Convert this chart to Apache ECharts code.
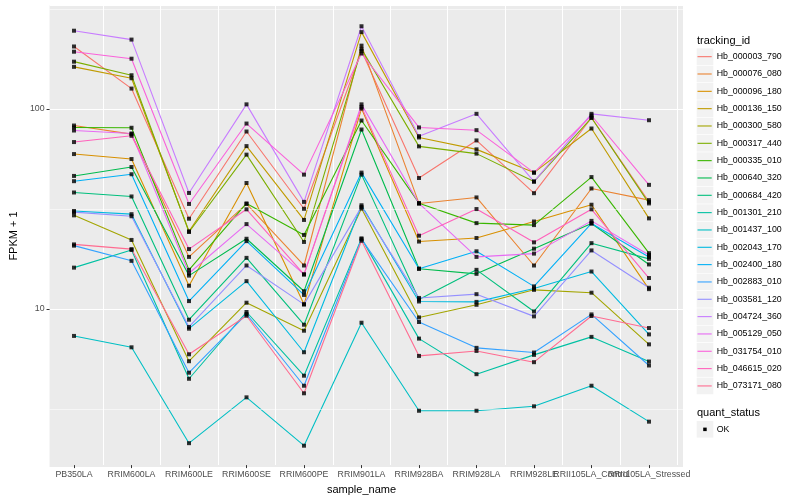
<!DOCTYPE html>
<html><head><meta charset="utf-8">
<script src="https://cdn.jsdelivr.net/npm/echarts@6/dist/echarts.min.js"></script>
<style>html,body{margin:0;padding:0;background:#fff}#c{width:800px;height:500px}</style>
</head><body><div id="c"></div>
<script>
const categories = ['PB350LA','RRIM600LA','RRIM600LE','RRIM600SE','RRIM600PE','RRIM901LA','RRIM928BA','RRIM928LA','RRIM928LE','RRII105LA_Control','RRII105LA_Stressed'];
const trackingIds = ['Hb_000003_790','Hb_000076_080','Hb_000096_180','Hb_000136_150','Hb_000300_580','Hb_000317_440','Hb_000335_010','Hb_000640_320','Hb_000684_420','Hb_001301_210','Hb_001437_100','Hb_002043_170','Hb_002400_180','Hb_002883_010','Hb_003581_120','Hb_004724_360','Hb_005129_050','Hb_031754_010','Hb_046615_020','Hb_073171_080'];
const colors = ['#F8766D','#EA8331','#D89000','#C09B00','#A3A500','#7CAE00','#39B600','#00BB4E','#00BF7D','#00C1A3','#00BFC4','#00BAE0','#00B0F6','#35A2FF','#9590FF','#C77CFF','#E76BF3','#FA62DB','#FF62BC','#FF6C91'];

const Hb_000003_790 = [205, 126, 28.0, 76.7, 31.4, 195, 44.8, 69.2, 37.6, 89.9, 34.0];
const Hb_000076_080 = [82.2, 74.4, 18.0, 33.2, 16.3, 207, 33.4, 35.8, 16.3, 39.7, 34.7];
const Hb_000096_180 = [59.1, 55.8, 12.9, 42.3, 10.4, 100, 21.5, 22.4, 27.1, 32.9, 12.4];
const Hb_000136_150 = [162, 142, 24.2, 64.8, 27.6, 242, 71.6, 62.4, 47.7, 79.4, 28.1];
const Hb_000300_580 = [29.1, 21.9, 5.39, 10.6, 7.67, 31.5, 8.94, 10.35, 12.3, 11.9, 6.55];
const Hb_000317_440 = [172, 147, 24.0, 58.7, 21.4, 199, 64.6, 59.4, 43.0, 89.9, 33.4];
const Hb_000335_010 = [80.4, 80.1, 15.5, 33.4, 23.2, 87.1, 33.5, 26.6, 26.0, 45.3, 18.8];
const Hb_000640_320 = [45.9, 50.9, 14.5, 22.2, 12.1, 78.5, 15.7, 14.8, 19.8, 26.5, 16.5];
const Hb_000684_420 = [37.9, 36.2, 8.71, 17.8, 8.22, 46.6, 11.0, 15.5, 9.58, 21.1, 17.6];
const Hb_001301_210 = [15.9, 19.5, 4.40, 9.52, 4.56, 22.3, 7.00, 4.64, 5.8, 7.14, 5.37];
const Hb_001437_100 = [7.22, 6.33, 2.09, 3.55, 2.03, 8.41, 3.04, 3.04, 3.20, 4.06, 2.68];
const Hb_002043_170 = [30.6, 29.5, 7.85, 13.6, 5.98, 32.7, 10.75, 10.7, 12.5, 15.2, 7.35];
const Hb_002400_180 = [43.2, 46.8, 10.8, 21.6, 11.6, 47.7, 15.7, 19.2, 12.8, 26.5, 18.0];
const Hb_002883_010 = [20.5, 17.2, 4.72, 9.30, 4.06, 22.1, 8.48, 6.29, 5.96, 9.26, 5.13];
const Hb_003581_120 = [30.2, 28.8, 8.01, 16.3, 10.4, 32.1, 11.2, 11.7, 9.05, 19.4, 12.6];
const Hb_004724_360 = [246, 222, 37.7, 105, 34.0, 259, 72.7, 94.1, 43.0, 94.1, 87.4];
const Hb_005129_050 = [77.6, 75, 14.9, 26.3, 14.7, 105, 33.4, 18.0, 18.7, 27.3, 18.4];
const Hb_031754_010 = [193, 178, 33.2, 84.1, 46.6, 189, 80.4, 77.9, 47.7, 92.3, 41.4];
const Hb_046615_020 = [67.9, 73, 19.7, 31.2, 14.7, 102, 23.0, 31.3, 21.3, 31.2, 14.1];
const Hb_073171_080 = [20.8, 19.7, 5.84, 9.12, 3.72, 21.7, 5.73, 6.07, 5.33, 9.09, 7.91];

const seriesValues = [Hb_000003_790, Hb_000076_080, Hb_000096_180, Hb_000136_150, Hb_000300_580, Hb_000317_440, Hb_000335_010, Hb_000640_320, Hb_000684_420, Hb_001301_210, Hb_001437_100, Hb_002043_170, Hb_002400_180, Hb_002883_010, Hb_003581_120, Hb_004724_360, Hb_005129_050, Hb_031754_010, Hb_046615_020, Hb_073171_080];
const quantStatus = ['OK'];
const yTickLabels = ['10', '100'];
const yMinorValues = [3.1623, 31.623, 316.23];
const yRange = [1.6218, 331.13];

const FONT = '"Liberation Sans", Arial, Helvetica, sans-serif';
const P = {left: 40, right: 683, top: 5, bottom: 467};
const step = (P.right - P.left) / (categories.length + 1.2);
const innerLeft = P.left + 0.1 * step;
const innerRight = P.right - 0.1 * step;

const lineSeries = trackingIds.map((id, i) => ({
  name: id, type: 'line', xAxisIndex: 1, yAxisIndex: 1,
  data: seriesValues[i], symbol: 'none', showSymbol: false,
  lineStyle: {width: 1.1, color: colors[i]}, itemStyle: {color: colors[i]},
  z: 3, silent: true, animation: false
}));
const pointData = [];
seriesValues.forEach(vals => vals.forEach((v, j) => pointData.push([categories[j], v])));

const keyTop = 48, rowH = 17.33;
const graphics = [];
trackingIds.forEach((id, i) => {
  graphics.push({type: 'rect', silent: true, z: 0, shape: {x: 696.7, y: keyTop + i * rowH + 0.35, width: 16.6, height: rowH - 0.7}, style: {fill: '#F2F2F2'}});
});
graphics.push({type: 'text', silent: true, style: {x: 697, y: 40.7, text: 'tracking_id', fontSize: 11, fontFamily: FONT, fill: '#000', verticalAlign: 'middle'}});
graphics.push({type: 'text', silent: true, style: {x: 697, y: 412.7, text: 'quant_status', fontSize: 11, fontFamily: FONT, fill: '#000', verticalAlign: 'middle'}});
graphics.push({type: 'rect', silent: true, z: 0, shape: {x: 696.7, y: 421, width: 16.6, height: 16.6}, style: {fill: '#F2F2F2'}});
graphics.push({type: 'rect', silent: true, z: 10, shape: {x: 703.2, y: 427.6, width: 3.5, height: 3.5}, style: {fill: '#000'}});

function decadeLabel(v) {
  const s = String(Math.round(v));
  return yTickLabels.indexOf(s) >= 0 && Math.abs(v - Math.round(v)) < 1e-6 ? s : '';
}

const option = {
  animation: false,
  backgroundColor: '#fff',
  textStyle: {fontFamily: FONT},
  grid: [
    {left: P.left, right: 800 - P.right, top: P.top, bottom: 500 - P.bottom, show: true, backgroundColor: '#EBEBEB', borderWidth: 0},
    {left: innerLeft, right: 800 - innerRight, top: P.top, bottom: 500 - P.bottom}
  ],
  xAxis: [
    {gridIndex: 0, type: 'value', min: 0, max: 1, show: false},
    {gridIndex: 1, type: 'category', data: categories, boundaryGap: true,
     axisLine: {show: false},
     axisTick: {show: true, alignWithLabel: true, length: 3, lineStyle: {color: '#333', width: 1}},
     axisLabel: {interval: 0, margin: 5, fontSize: 8.8, color: '#4D4D4D', fontFamily: FONT},
     splitLine: {show: true, interval: 0, lineStyle: {color: '#fff', width: 1.07}},
     name: 'sample_name', nameLocation: 'middle', nameGap: 14,
     nameTextStyle: {fontSize: 11, color: '#000', fontFamily: FONT, verticalAlign: 'top'}}
  ],
  yAxis: [
    {gridIndex: 0, type: 'log', logBase: 10, min: yRange[0], max: yRange[1],
     axisLine: {show: false},
     axisTick: {show: true, length: 3, lineStyle: {color: '#333', width: 1}},
     axisLabel: {margin: 5, fontSize: 8.8, color: '#4D4D4D', fontFamily: FONT, showMinLabel: false, showMaxLabel: false, formatter: decadeLabel},
     splitLine: {show: true, lineStyle: {color: '#fff', width: 1.07}},
     name: 'FPKM + 1', nameLocation: 'middle', nameGap: 22, nameRotate: 90,
     nameTextStyle: {fontSize: 11, color: '#000', fontFamily: FONT}},
    {gridIndex: 1, type: 'log', logBase: 10, min: yRange[0], max: yRange[1], show: false, splitLine: {show: false}}
  ],
  legend: [
    {data: trackingIds, orient: 'vertical', left: 697.5, top: keyTop, padding: 0, itemGap: 0,
     itemWidth: 14.2, itemHeight: 1.1, icon: 'rect', selectedMode: false,
     textStyle: {fontSize: 8.8, color: '#000', fontFamily: FONT, lineHeight: rowH}},
    {data: quantStatus, orient: 'vertical', left: 697.5, top: 421 - 0.35, padding: 0, itemGap: 0,
     itemWidth: 14.2, itemHeight: 3.5, icon: 'none', selectedMode: false,
     textStyle: {fontSize: 8.8, color: '#000', fontFamily: FONT, lineHeight: rowH}}
  ],
  graphic: graphics,
  series: [
    {name: 'minor-grid', type: 'line', xAxisIndex: 0, yAxisIndex: 0, data: [], z: 1, silent: true,
     markLine: {silent: true, symbol: 'none', label: {show: false}, animation: false,
       lineStyle: {color: '#fff', width: 0.55, type: 'solid'},
       data: yMinorValues.map(v => ({yAxis: v}))}},
    ...lineSeries,
    {name: 'OK', type: 'scatter', xAxisIndex: 1, yAxisIndex: 1, data: pointData,
     symbol: 'rect', symbolSize: 4, itemStyle: {color: '#000'}, z: 5, silent: true}
  ]
};
const chart = echarts.init(document.getElementById('c'), null, {renderer: 'canvas'});
chart.setOption(option);
</script></body></html>
